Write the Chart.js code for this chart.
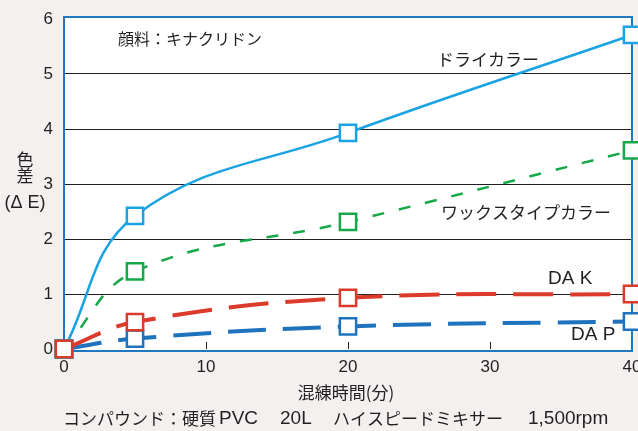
<!DOCTYPE html>
<html>
<head>
<meta charset="utf-8">
<script src="https://cdn.jsdelivr.net/npm/chart.js@4.4.1/dist/chart.umd.min.js"></script>
<style>
  html, body { margin: 0; padding: 0; background: #f2f1ef; }
  #wrap { width: 638px; height: 431px; position: relative; }
</style>
</head>
<body>
<div id="wrap"><canvas id="chart"></canvas></div>
<script>
// mixing time (min)
var times = [0, 5, 20, 40];
// colour difference ΔE for each series
var dryColor = [0, 2.42, 3.93, 5.71];
var waxColor = [0, 1.41, 2.31, 3.61];
var daK = [0, 0.49, 0.93, 1.0];
var daP = [0, 0.19, 0.41, 0.5];
var xTicks = [0, 10, 20, 30, 40];
var yTicks = [0, 1, 2, 3, 4, 5, 6];

var textColor = '#231f20';
var fontFamily = "'Liberation Sans', 'Noto Sans CJK JP', sans-serif";
var jpFont = "'Noto Sans CJK JP', 'Liberation Sans', sans-serif";

function toPoints(values) {
    return times.map(function (t, i) { return { x: t, y: values[i] }; });
}

function series(label, values, color, width, dash) {
    return {
        label: label,
        data: toPoints(values),
        borderColor: color,
        borderWidth: width,
        borderDash: dash,
        tension: 0.4,
        pointStyle: 'rect',
        pointRadius: 11.5,
        pointBorderWidth: 2.5,
        pointBorderColor: color,
        pointBackgroundColor: '#ffffff',
        clip: false,
        fill: false
    };
}

// background, plot frame, inner ticks and text labels
var decorations = {
    id: 'decorations',
    beforeDraw: function (chart) {
        var ctx = chart.ctx, a = chart.chartArea;
        ctx.save();
        ctx.fillStyle = '#f2f1ef';
        ctx.fillRect(0, 0, chart.width, chart.height);
        ctx.fillStyle = '#ffffff';
        ctx.fillRect(a.left, a.top - 2, a.right - a.left, a.bottom - a.top + 4);
        ctx.restore();
    },
    beforeDatasetsDraw: function (chart) {
        var ctx = chart.ctx, a = chart.chartArea, x = chart.scales.x;
        ctx.save();
        ctx.strokeStyle = textColor;
        ctx.lineWidth = 1;
        [10, 20, 30].forEach(function (v) {
            var px = Math.round(x.getPixelForValue(v)) + 0.5;
            ctx.beginPath();
            ctx.moveTo(px, a.bottom - 7);
            ctx.lineTo(px, a.bottom);
            ctx.stroke();
        });
        ctx.strokeStyle = '#1f78c1';
        ctx.lineWidth = 2;
        ctx.strokeRect(a.left, a.top - 2, a.right - a.left, a.bottom - a.top + 4);

        ctx.fillStyle = textColor;
        ctx.textBaseline = 'middle';
        ctx.textAlign = 'left';
        ctx.font = '16px ' + jpFont;
        ctx.fillText('顔料：キナクリドン', 118, 39);
        ctx.font = '17px ' + jpFont;
        ctx.fillText('ドライカラー', 437, 60);
        ctx.fillText('ワックスタイプカラー', 441, 213);
        ctx.font = '19px ' + fontFamily;
        ctx.fillText('DA K', 548, 279);
        ctx.fillText('DA P', 571, 335);

        // y axis title, stacked
        ctx.font = '17px ' + jpFont;
        ctx.textAlign = 'center';
        ctx.fillText('色', 25, 160);
        ctx.fillText('差', 25, 176);
        ctx.font = '18px ' + fontFamily;
        ctx.fillText('(Δ E)', 25, 203);

        ctx.font = '17px ' + jpFont;
        ctx.fillText('混練時間(分)', 346, 393);

        // footer note
        ctx.textAlign = 'left';
        ctx.fillText('コンパウンド：硬質', 63, 419);
        ctx.fillText('ハイスピードミキサー', 333, 419);
        ctx.font = '19px ' + fontFamily;
        ctx.fillText('PVC', 219, 419);
        ctx.fillText('20L', 280, 419);
        ctx.fillText('1,500rpm', 528, 419);
        ctx.restore();
    }
};

// drop the extra room Chart.js reserves for the edge tick labels
function noEdgePadding(scale) {
    scale.paddingLeft = 0;
    scale.paddingRight = 0;
    scale.paddingTop = 0;
    scale.paddingBottom = 0;
}

var ctx = document.getElementById('chart').getContext('2d');
var myChart = new Chart(ctx, {
    type: 'line',
    data: {
        datasets: [
            series('DA K', daK, '#dc3a2a', 4, [40, 17]),
            series('DA P', daP, '#1f73bd', 4, [38, 17]),
            series('ワックスタイプカラー', waxColor, '#17a84a', 2.5, [12, 15]),
            series('ドライカラー', dryColor, '#1aa3e3', 2.5, [])
        ]
    },
    options: {
        responsive: true,
        maintainAspectRatio: false,
        animation: false,
        layout: { autoPadding: false, padding: { left: 0, right: 6, top: 19, bottom: 0 } },
        plugins: {
            legend: { display: false },
            tooltip: { enabled: false }
        },
        scales: {
            x: {
                type: 'linear',
                min: 0,
                max: 40,
                afterBuildTicks: function (scale) {
                    scale.ticks = xTicks.map(function (v) { return { value: v }; });
                },
                afterFit: function (scale) { scale.height = 82; noEdgePadding(scale); },
                grid: { display: false, drawTicks: false },
                border: { display: false },
                ticks: {
                    padding: 8,
                    color: textColor,
                    font: { size: 17, family: fontFamily },
                    maxRotation: 0
                }
            },
            y: {
                min: 0,
                max: 6,
                afterBuildTicks: function (scale) {
                    scale.ticks = yTicks.map(function (v) { return { value: v }; });
                },
                afterFit: function (scale) { scale.width = 64; noEdgePadding(scale); },
                grid: {
                    drawTicks: false,
                    lineWidth: 1,
                    color: function (c) {
                        return (c.tick && (c.tick.value === 0 || c.tick.value === 6)) ? 'rgba(0,0,0,0)' : textColor;
                    }
                },
                border: { display: false },
                ticks: {
                    padding: 11,
                    color: textColor,
                    font: { size: 17, family: fontFamily }
                }
            }
        }
    },
    plugins: [decorations]
});
</script>
</body>
</html>
